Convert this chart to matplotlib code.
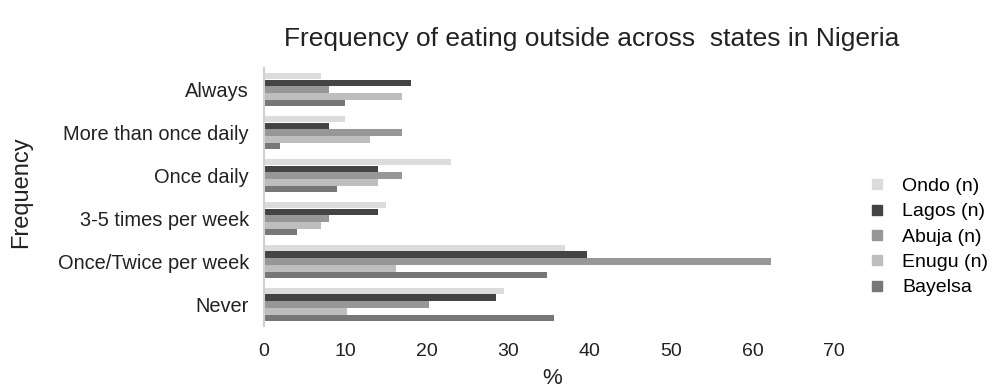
import matplotlib.pyplot as plt
from matplotlib.lines import Line2D
import numpy as np

plt.rcParams["font.family"] = ["Liberation Sans", "DejaVu Sans"]

# categories listed top to bottom as in the chart
categories = [
    "Always",
    "More than once daily",
    "Once daily",
    "3-5 times per week",
    "Once/Twice per week",
    "Never",
]
states = ["Ondo (n)", "Lagos (n)", "Abuja (n)", "Enugu (n)", "Bayelsa"]

ondo = [7, 10, 23, 15, 37, 29.5]
lagos = [18, 8, 14, 14, 39.7, 28.5]
abuja = [8, 17, 17, 8, 62.2, 20.3]
enugu = [17, 13, 14, 7, 16.2, 10.2]
bayelsa = [10, 2, 9, 4, 34.7, 35.6]

series = [ondo, lagos, abuja, enugu, bayelsa]
colors = ["#dcdcdc", "#444444", "#979797", "#bebebe", "#777777"]

fig = plt.figure(figsize=(9.93, 3.89), dpi=100)
ax = fig.add_axes([0.2659, 0.162, 0.574, 0.663])

y = np.arange(len(categories))
step = 0.158
bar_h = 0.15
for i, (vals, col) in enumerate(zip(series, colors)):
    offset = (i - 2) * step
    ax.barh(y + offset, vals, height=bar_h, color=col, label=states[i])

ax.set_xlim(0, 70)
ax.set_ylim(len(categories) - 0.5, -0.5)
ax.set_yticks(y)
ax.set_yticklabels(categories, fontsize=14.4, color="#222222")
ax.set_xticks(range(0, 71, 10))
ax.tick_params(axis="x", labelsize=14, length=0, pad=12, colors="#222222")
ax.tick_params(axis="y", length=0, pad=11)

for side in ["top", "right", "bottom"]:
    ax.spines[side].set_visible(False)
ax.spines["left"].set_color("#d0d0d0")
ax.spines["left"].set_linewidth(1.5)

# axis titles and chart title placed as in the reference
fig.text(0.556, 0.026, "%", fontsize=16, ha="center", va="center", color="#222222")
fig.text(0.021, 0.507, "Frequency", rotation=90, fontsize=17,
         ha="center", va="center", color="#222222")
fig.text(0.596, 0.9, "Frequency of eating outside across  states in Nigeria",
         fontsize=19, ha="center", va="center", color="#222222")

handles = [
    Line2D([0], [0], marker="s", linestyle="None", color=c, markersize=7)
    for c in colors
]
fig.legend(
    handles,
    states,
    loc="center left",
    bbox_to_anchor=(0.875, 0.391),
    frameon=False,
    fontsize=14,
    handlelength=0.8,
    handletextpad=0.9,
    labelspacing=0.4,
    borderaxespad=0,
    borderpad=0,
)

plt.savefig("out.png", dpi=100)
plt.close()
